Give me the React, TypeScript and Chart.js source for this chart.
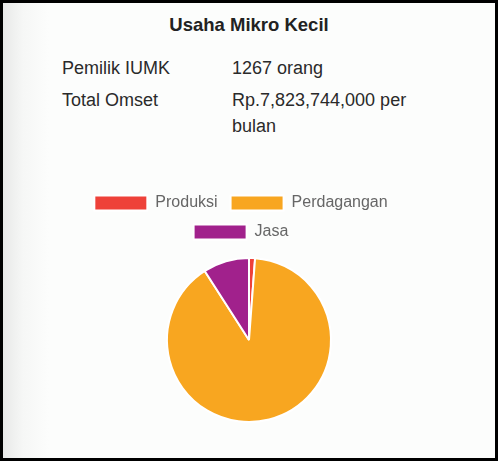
import React, { useEffect, useRef } from "react";
import { Chart, registerables } from "chart.js";

Chart.register(...registerables);

const titleText = "Usaha Mikro Kecil";
const infoLabels = ["Pemilik IUMK", "Total Omset"];
const infoValues = ["1267 orang", "Rp.7,823,744,000 per bulan"];
const categories = ["Produksi", "Perdagangan", "Jasa"];
const counts = [15, 1137, 115];
const sliceColors = ["#EE4139", "#F8A620", "#A1218C"];

const FONT = "'Liberation Sans', Arial, Helvetica, sans-serif";

const legendShift = {
  id: "legendShift",
  afterLayout(chart: any) {
    const lg = chart.legend;
    if (lg) {
      lg.left -= 8;
      lg.right -= 8;
    }
  },
};

function PieChart() {
  const ref = useRef<HTMLCanvasElement | null>(null);
  useEffect(() => {
    if (!ref.current) return;
    const chart = new Chart(ref.current, {
      type: "pie",
      data: {
        labels: categories,
        datasets: [
          {
            data: counts,
            backgroundColor: sliceColors,
            borderColor: "#ffffff",
            borderWidth: 2,
          },
        ],
      },
      options: {
        responsive: false,
        animation: false,
        radius: 82,
        layout: { padding: 0 },
        plugins: {
          legend: {
            position: "top",
            labels: {
              boxWidth: 53,
              boxHeight: 15,
              padding: 13,
              color: "#666666",
              font: { family: FONT, size: 16 },
            },
          },
          tooltip: { enabled: false },
        },
      },
      plugins: [legendShift],
    } as any);
    return () => chart.destroy();
  }, []);
  return <canvas ref={ref} width={380} height={248} style={{ display: "block" }} />;
}

export default function App() {
  const textBase: React.CSSProperties = {
    position: "absolute",
    fontFamily: FONT,
    fontSize: 18,
    lineHeight: "26px",
    color: "#2a2a2a",
    whiteSpace: "nowrap",
  };
  return (
    <div
      style={{
        position: "absolute",
        left: 0,
        top: 0,
        width: 498,
        height: 461,
        boxSizing: "border-box",
        border: "3px solid #000",
        background:
          "linear-gradient(to right, #e8e9e8 0px, #f6f7f6 20px, #fcfdfc 46px, #fcfdfc 100%)",
        overflow: "hidden",
      }}
    >
      <div
        style={{
          position: "absolute",
          left: -3,
          width: 498,
          top: 11,
          textAlign: "center",
          fontFamily: FONT,
          fontWeight: "bold",
          fontSize: 18.5,
          lineHeight: "22px",
          color: "#222",
        }}
      >
        {titleText}
      </div>
      <div style={{ ...textBase, left: 59, top: 52 }}>{infoLabels[0]}</div>
      <div style={{ ...textBase, left: 229, top: 52 }}>{infoValues[0]}</div>
      <div style={{ ...textBase, left: 59, top: 84 }}>{infoLabels[1]}</div>
      <div style={{ ...textBase, left: 229, top: 84, whiteSpace: "normal", width: 180 }}>
        {infoValues[1]}
      </div>
      <div style={{ position: "absolute", left: 56, top: 179 }}>
        <PieChart />
      </div>
    </div>
  );
}
